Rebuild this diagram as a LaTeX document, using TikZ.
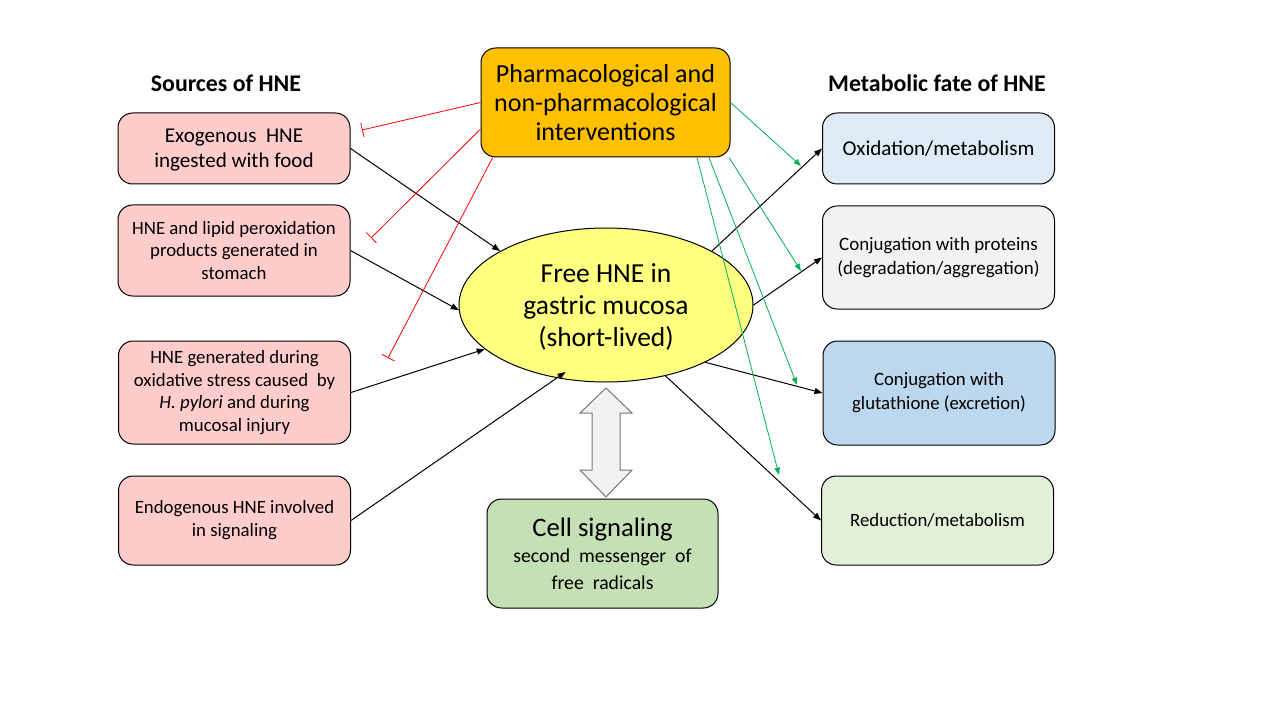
\documentclass[tikz,border=0pt]{standalone}
\usepackage{fontspec}
\setmainfont{Carlito}
\usepackage{tikz}
\usetikzlibrary{shapes.geometric,arrows.meta}

\begin{document}
\begin{tikzpicture}[x=0.75pt,y=0.75pt,yscale=-1,xscale=1,
    box/.style={draw={rgb, 255:red, 0; green, 0; blue, 0 }, line width=0.75, rounded corners=11pt, align=center, inner sep=0pt, minimum width=174pt},
    srcbox/.style={box, fill={rgb, 255:red, 255; green, 204; blue, 204 }},
    fatebox/.style={box},
    blk/.style={-{Triangle[length=6pt,width=4.5pt]}, line width=0.75},
    inhib/.style={-{Bar[width=11pt]}, color={rgb, 255:red, 255; green, 0; blue, 0 }, line width=0.6},
    prom/.style={-{Triangle[length=5.5pt,width=4pt]}, color={rgb, 255:red, 0; green, 176; blue, 80 }, line width=0.6},
    fs/.style 2 args={font=\fontsize{#1}{#2}\selectfont}
]
    \useasboundingbox (0,0) rectangle (1280,720); %diagram is 1280 by 720
    
    % Text Node
    \node (hsrc) at (226,83) [font=\fontsize{17.9}{21}\selectfont\bfseries] {Sources of HNE};
    % Text Node
    \node (hfate) at (937,83) [font=\fontsize{17.9}{21}\selectfont\bfseries] {Metabolic fate of HNE};
    
    %Rounded Rect [id:src1] 
    \node (src1) at (234,148.5) [srcbox, minimum height=53.25pt, text depth=-1pt, fs={15.8}{18.75}] {Exogenous~ HNE\\ingested with food};
    %Rounded Rect [id:src2] 
    \node (src2) at (234,250.5) [srcbox, minimum height=68.25pt, fs={14.1}{16.9}] {HNE and lipid peroxidation\\products generated in\\stomach};
    %Rounded Rect [id:src3] 
    \node (src3) at (234.5,392.5) [srcbox, minimum height=77.25pt, fs={14.1}{17}] {HNE generated during\\oxidative stress caused~ by\\\textit{H. pylori} and during\\mucosal injury};
    %Rounded Rect [id:src4] 
    \node (src4) at (234.5,520.5) [srcbox, minimum height=66.75pt, fs={14.1}{17.25}] {Endogenous HNE involved\\in signaling};
    
    %Rounded Rect [id:interv] 
    \node (interv) at (605.5,102.5) [box, fill={rgb, 255:red, 255; green, 192; blue, 0 }, minimum width=186.75pt, minimum height=81.75pt, fs={19.5}{21.75}] {Pharmacological and\\non-pharmacological\\interventions};
    %Shape: Ellipse [id:hne] 
    \node (hne) at (606,305) [ellipse, draw={rgb, 255:red, 0; green, 0; blue, 0 }, line width=0.75, fill={rgb, 255:red, 255; green, 255; blue, 128 }, minimum width=220.5pt, minimum height=115.5pt, inner sep=0pt, align=center, text depth=-3pt, fs={20.6}{24}] {Free HNE in\\gastric mucosa\\(short-lived)};
    %Rounded Rect [id:sig] 
    \node (sig) at (602.5,553.5) [box, fill={rgb, 255:red, 197; green, 224; blue, 180 }, minimum width=173.25pt, minimum height=81.75pt, fs={14.8}{20}] {{\fontsize{20}{21}\selectfont Cell signaling}\\second~ messenger~ of\\free~ radicals};
    
    %Rounded Rect [id:fate1] 
    \node (fate1) at (938.5,148.5) [fatebox, fill={rgb, 255:red, 222; green, 235; blue, 247 }, minimum height=53.25pt, fs={15.8}{18.5}] {Oxidation/metabolism};
    %Rounded Rect [id:fate2] 
    \node (fate2) at (938.5,257.5) [fatebox, fill={rgb, 255:red, 242; green, 242; blue, 242 }, minimum height=77.25pt, fs={14.2}{18}] {Conjugation with proteins\\(degradation/aggregation)};
    %Rounded Rect [id:fate3] 
    \node (fate3) at (939,393) [fatebox, fill={rgb, 255:red, 189; green, 215; blue, 238 }, minimum height=78pt, fs={14.1}{18}] {Conjugation with\\glutathione (excretion)};
    %Rounded Rect [id:fate4] 
    \node (fate4) at (937.5,520.5) [fatebox, fill={rgb, 255:red, 226; green, 240; blue, 217 }, minimum height=66.75pt, fs={14.1}{18}] {Reduction/metabolism};
    
    %Straight Lines [id:in1] 
    \draw [blk] (src1.east) -- (hne.153);
    %Straight Lines [id:in2] 
    \draw [blk] (src2.east) -- (hne.182);
    %Straight Lines [id:in3] 
    \draw [blk] (src3.east) -- (hne.200);
    %Straight Lines [id:in4] 
    \draw [blk, shorten >=-8pt] (src4.east) -- (hne.236);
    
    %Straight Lines [id:out1] 
    \draw [blk] (hne.27) -- (fate1.west);
    %Straight Lines [id:out2] 
    \draw [blk] (hne.0) -- (fate2.west);
    %Straight Lines [id:out3] 
    \draw [blk] (hne.-30) -- (fate3.west);
    %Straight Lines [id:out4] 
    \draw [blk] (hne.-50) -- (fate4.west);
    
    % inhibition ends
    \coordinate (stop1) at (362,130);
    \coordinate (stop2) at (371,238);
    \coordinate (stop3) at (388,358);
    %Straight Lines [id:red1] 
    \draw [inhib] (interv.west) -- (stop1);
    %Straight Lines [id:red2] 
    \draw [inhib] (interv.192) -- (stop2);
    %Straight Lines [id:red3] 
    \draw [inhib] (interv.206) -- (stop3);
    
    % green arrow ends
    \coordinate (act1) at (801,166);
    \coordinate (act2) at (801,271);
    \coordinate (act3) at (797,385);
    \coordinate (act4) at (779,475);
    %Straight Lines [id:green1] 
    \draw [prom] (interv.east) -- (act1);
    %Straight Lines [id:green2] 
    \draw [prom] (interv.-24.5) -- (act2);
    %Straight Lines [id:green3] 
    \draw [prom] (interv.-28) -- (act3);
    %Straight Lines [id:green4] 
    \draw [prom] (interv.-31) -- (act4);
    
    %Shape: Up Down Arrow [id:updown] 
    \draw [fill={rgb, 255:red, 242; green, 242; blue, 242 }, draw={rgb, 255:red, 118; green, 118; blue, 118 }, line width=0.75] (606,388) -- (632,413) -- (620,413) -- (620,470) -- (632,470) -- (606,497) -- (580,470) -- (592,470) -- (592,413) -- (580,413) -- cycle;
\end{tikzpicture}
\end{document}
